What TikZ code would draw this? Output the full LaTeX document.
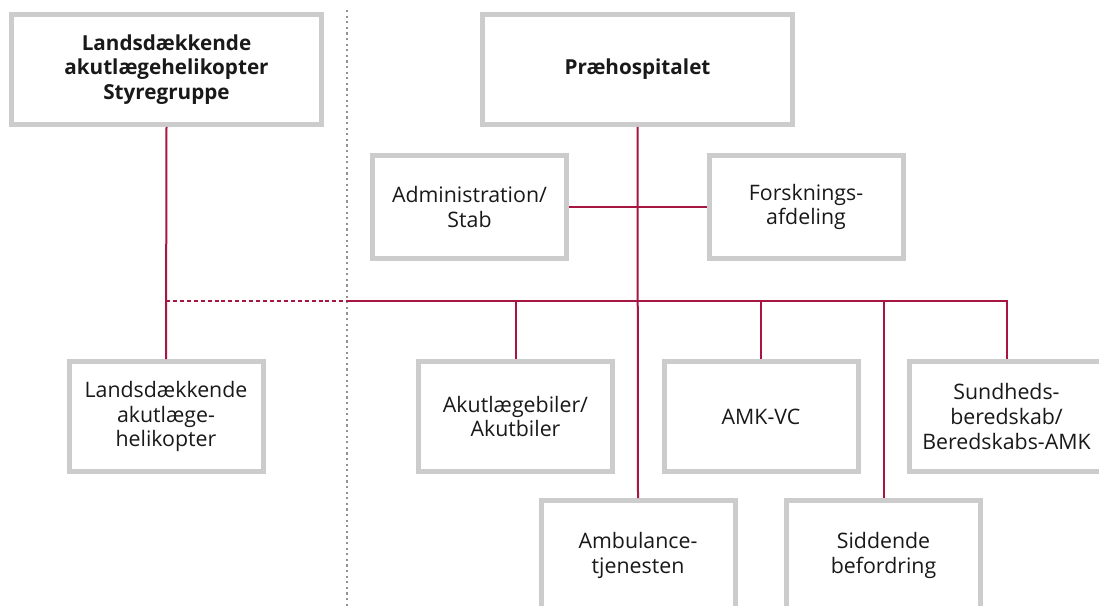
\documentclass[tikz,border=0pt]{standalone}
\usepackage{fontspec}
\setmainfont{Open Sans}
\begin{document}
\begin{tikzpicture}[x=0.75pt,y=-0.75pt,
  box/.style={draw=boxgray,line width=3.75pt,fill=white,rectangle,align=center,
    inner sep=0pt,text=black!90,font=\fontsize{16}{18.4}\selectfont},
  smallbox/.style={box,minimum width=145.5pt,minimum height=82.5pt},
  midbox/.style={box,minimum width=145.5pt,minimum height=76.5pt},
  topbox/.style={box,minimum width=232.5pt,minimum height=82.5pt,
    font=\fontsize{15.5}{18.4}\selectfont\bfseries},
  link/.style={draw=linkred,line width=1.5pt},
  dashlink/.style={link,dash pattern=on 3pt off 2.2pt},
  divider/.style={draw=gray!85,line width=1.1pt,dash pattern=on 1.6pt off 2.6pt}]
\definecolor{boxgray}{RGB}{204,204,204}
\definecolor{linkred}{RGB}{166,22,64}
\clip (0,0) rectangle (1099,606);
\fill[white] (0,0) rectangle (1099,606);

% divider
\coordinate (dtop) at (347,10);
\coordinate (dbot) at (347,606);
\draw[divider] (dtop) -- (dbot);

% nodes
\node[topbox] (sty) at (166.5,69.5) {Landsdækkende\\akutlægehelikopter\\Styregruppe};
\node[topbox] (pre) at (637.5,69.5) {Præhospitalet};
\node[midbox] (adm) at (469.5,207) {Administration/\\Stab};
\node[midbox] (fors) at (806,207) {Forsknings-\\afdeling};
\node[smallbox] (heli) at (166,416.5) {Landsdækkende\\akutlæge-\\helikopter};
\node[smallbox] (akut) at (515.5,416.5) {Akutlægebiler/\\Akutbiler};
\node[smallbox] (amk) at (761,416.5) {AMK-VC};
\node[smallbox] (sund) at (1006.5,416.5) {Sundheds-\\beredskab/\\Beredskabs-AMK};
\node[smallbox] (amb) at (638,555.5) {Ambulance-\\tjenesten};
\node[smallbox] (sidd) at (883.5,555.5) {Siddende\\befordring};

% junction coordinates on the bus line
\coordinate (jl) at (166,301);
\coordinate (jd) at (347,301);
\coordinate (jr) at (1006.5,301);

% connectors
\draw[link] (sty.south) -- (heli.north);
\draw[dashlink] (jl) -- (jd);
\draw[link] (jd) -- (jr) -- (sund.north);
\draw[link] (pre.south) -- (amb.north);
\draw[link] (adm.east) -- (fors.west);
\draw[link] (akut.north) -- (akut.north |- jl);
\draw[link] (amk.north) -- (amk.north |- jl);
\draw[link] (sidd.north) -- (sidd.north |- jl);
\end{tikzpicture}
\end{document}
